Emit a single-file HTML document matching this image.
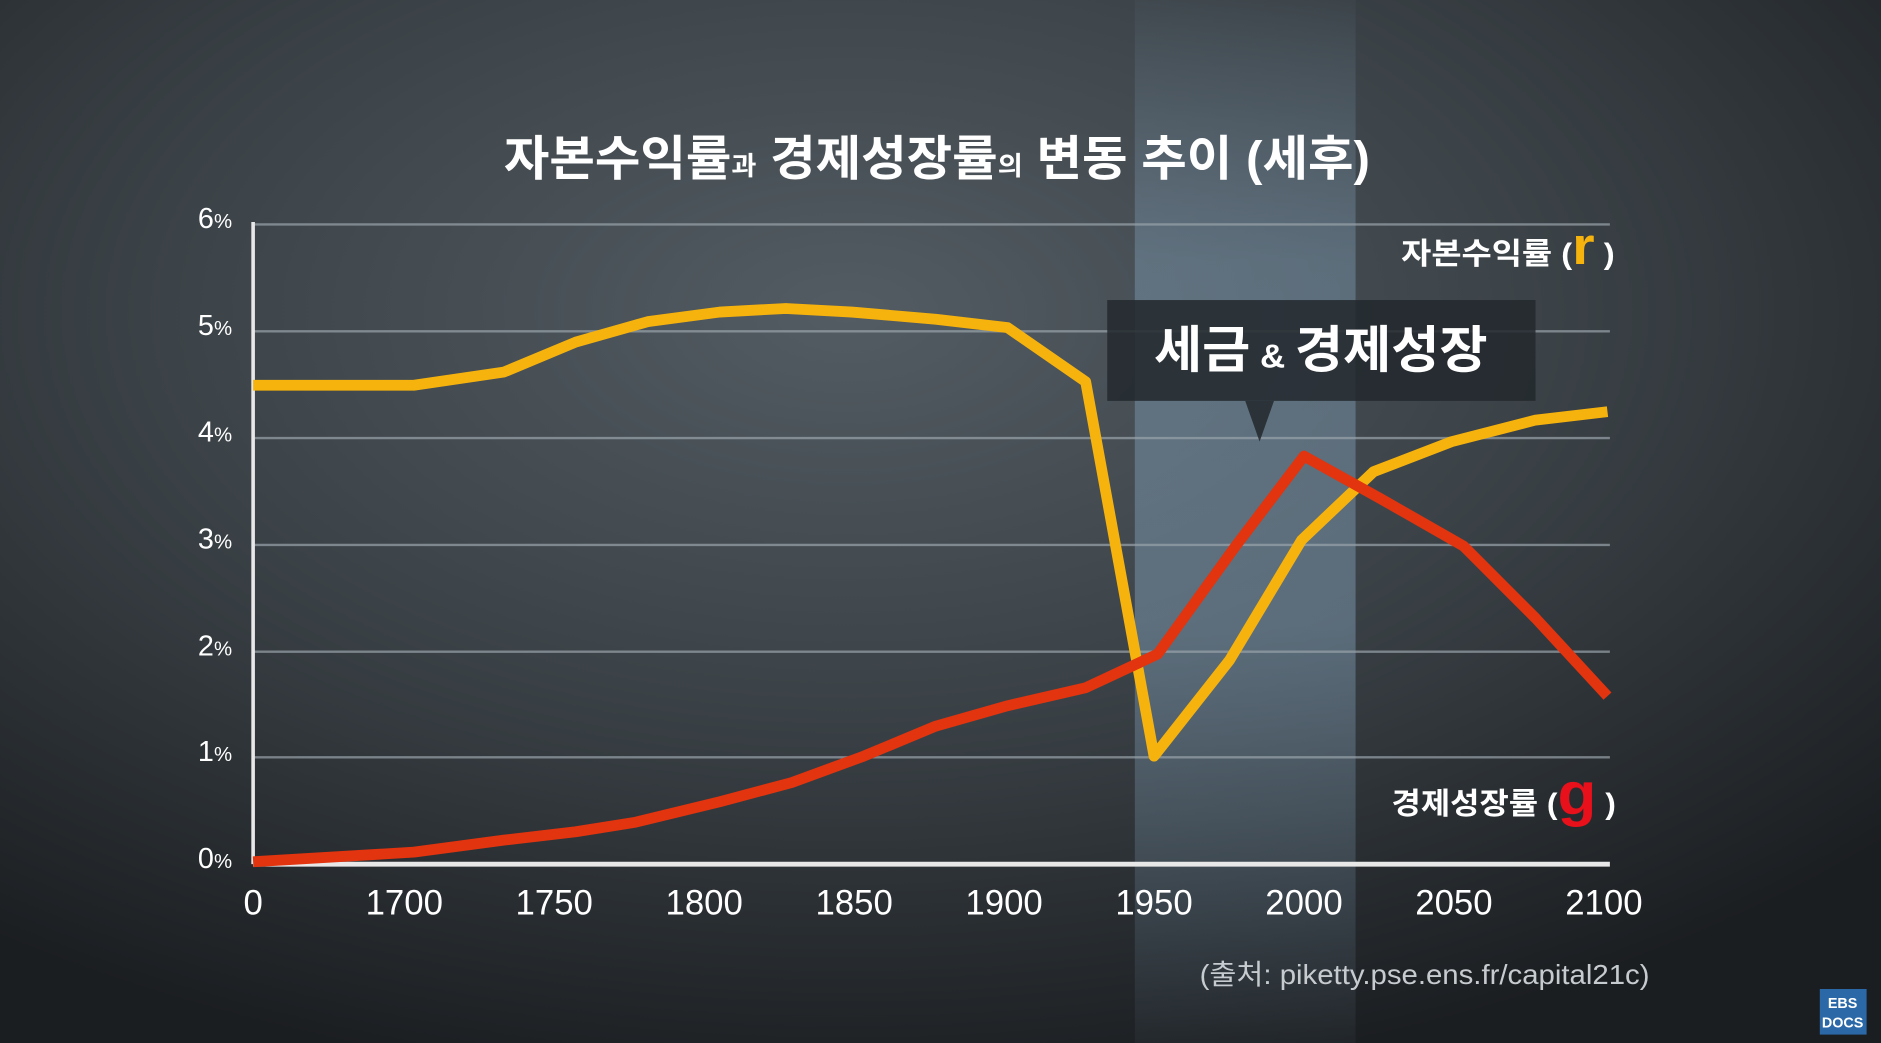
<!DOCTYPE html>
<html><head><meta charset="utf-8"><style>
html,body{margin:0;padding:0;width:1881px;height:1043px;overflow:hidden;background:#2a2e32}
svg{display:block}
text{font-family:"Liberation Sans","Noto Sans CJK KR",sans-serif}
</style></head><body>
<svg width="1881" height="1043" viewBox="0 0 1568 869" preserveAspectRatio="none">
<defs>
<radialGradient id="bg" cx="0.45" cy="0.3" r="0.75">
<stop offset="0" stop-color="#535c63"/>
<stop offset="0.5" stop-color="#3b4247"/>
<stop offset="1" stop-color="#1b1e21"/>
</radialGradient>
<linearGradient id="band" x1="0" y1="0" x2="0" y2="1">
<stop offset="0" stop-color="#7d99b0" stop-opacity="0.05"/>
<stop offset="0.25" stop-color="#7d99b0" stop-opacity="0.45"/>
<stop offset="0.6" stop-color="#7d99b0" stop-opacity="0.5"/>
<stop offset="1" stop-color="#7d99b0" stop-opacity="0.06"/>
</linearGradient>
</defs>
<rect width="1568" height="869" fill="url(#bg)"/>
<rect x="946" y="0" width="184" height="869" fill="url(#band)"/>
<text x="420" y="146" fill="#fff" font-size="40" font-weight="bold" textLength="722" lengthAdjust="spacingAndGlyphs">자본수익률<tspan font-size="22">과</tspan> 경제성장률<tspan font-size="22">의</tspan> 변동 추이 (세후)</text>
<g stroke="#9aa4ab" stroke-width="2" opacity="0.7">
<line x1="211" y1="187" x2="1342" y2="187"/><line x1="211" y1="276" x2="1342" y2="276"/>
<line x1="211" y1="365" x2="1342" y2="365"/><line x1="211" y1="454" x2="1342" y2="454"/>
<line x1="211" y1="543" x2="1342" y2="543"/><line x1="211" y1="631" x2="1342" y2="631"/>
</g>
<line x1="211" y1="720" x2="1342" y2="720" stroke="#e8e8e8" stroke-width="4"/>
<line x1="211" y1="185" x2="211" y2="720" stroke="#e8e8e8" stroke-width="3"/>
<g fill="#fff" font-size="24">
<text x="165" y="190">6<tspan font-size="17">%</tspan></text>
<text x="165" y="279">5<tspan font-size="17">%</tspan></text>
<text x="165" y="368">4<tspan font-size="17">%</tspan></text>
<text x="165" y="457">3<tspan font-size="17">%</tspan></text>
<text x="165" y="546">2<tspan font-size="17">%</tspan></text>
<text x="165" y="634">1<tspan font-size="17">%</tspan></text>
<text x="165" y="723">0<tspan font-size="17">%</tspan></text>
</g>
<g fill="#fff" font-size="29" text-anchor="middle">
<text x="211" y="762">0</text><text x="337" y="762">1700</text><text x="462" y="762">1750</text>
<text x="587" y="762">1800</text><text x="712" y="762">1850</text><text x="837" y="762">1900</text>
<text x="962" y="762">1950</text><text x="1087" y="762">2000</text><text x="1212" y="762">2050</text>
<text x="1337" y="762">2100</text>
</g>
<rect x="923" y="250" width="357" height="84" fill="#22282d" opacity="0.85"/>
<polygon points="1038,334 1062,334 1050,368" fill="#22282d" opacity="0.85"/>
<text x="962" y="306" fill="#fff" font-size="42" font-weight="bold" textLength="278" lengthAdjust="spacingAndGlyphs">세금<tspan font-size="28"> &amp; </tspan>경제성장</text>
<polyline fill="none" stroke="#f7b30d" stroke-width="9" stroke-linejoin="round" points="211,321 345,321 420,310 480,285 540,268 600,260 655,257 710,260 780,266 840,273 905,318 962,630 1025,550 1085,450 1145,393 1210,368 1280,350 1340,343"/>
<polyline fill="none" stroke="#e1340f" stroke-width="9" stroke-linejoin="round" points="211,718 345,710 420,700 480,693 530,685 600,668 660,652 720,630 780,605 840,588 905,573 965,545 1030,455 1087,380 1150,415 1220,455 1280,515 1340,580"/>
<text x="1168" y="220" fill="#fff" font-size="25" font-weight="bold" textLength="178" lengthAdjust="spacingAndGlyphs">자본수익률 (<tspan fill="#f7b30d" font-size="44">r</tspan> )</text>
<text x="1160" y="678" fill="#fff" font-size="25" font-weight="bold" textLength="187" lengthAdjust="spacingAndGlyphs">경제성장률 (<tspan fill="#e8101a" font-size="50">g</tspan> )</text>
<text x="1000" y="820" fill="#c6cbcf" font-size="23" textLength="375" lengthAdjust="spacingAndGlyphs">(출처: piketty.pse.ens.fr/capital21c)</text>
<rect x="1517" y="824" width="39" height="38" fill="#2a68a8"/>
<text x="1536" y="840" fill="#fff" font-size="12" font-weight="bold" text-anchor="middle">EBS</text>
<text x="1536" y="856" fill="#fff" font-size="12" font-weight="bold" text-anchor="middle">DOCS</text>
</svg>
</body></html>
